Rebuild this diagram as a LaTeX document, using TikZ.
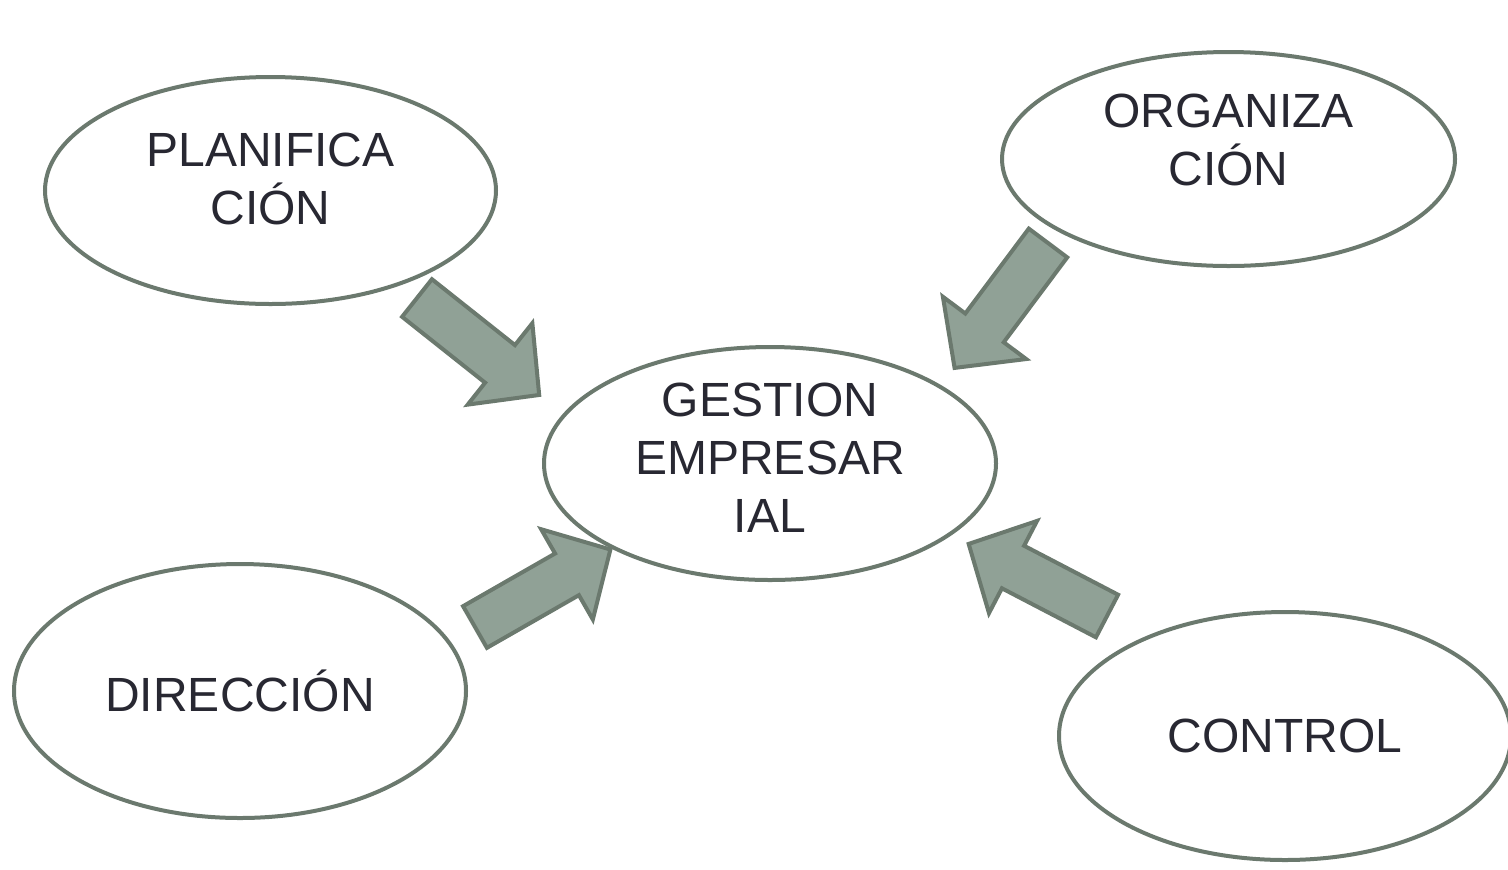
\documentclass[tikz,border=0pt]{standalone}
\usepackage{fontspec}
\setmainfont{Liberation Sans}
\usetikzlibrary{shapes.geometric}

\definecolor{sage}{RGB}{144,161,150}
\definecolor{sagedark}{RGB}{107,121,110}
\definecolor{ink}{RGB}{40,40,50}

\tikzstyle{stage}=[
    ellipse,
    line width=2pt,
    draw=sagedark,
    fill=white,
    text=ink,
    inner sep=0pt,
    align=center,
    font=\fontsize{24}{29}\selectfont
]
\tikzstyle{arrowbody}=[
    line width=2pt,
    draw=sagedark,
    fill=sage
]
\tikzset{
    bigarrow/.pic={
        \draw[arrowbody] (0pt,-12pt) -- (53pt,-12pt) -- (53pt,-26pt) -- (78pt,0pt)
            -- (53pt,26pt) -- (53pt,12pt) -- (0pt,12pt) -- cycle;
    }
}

\begin{document}
\begin{tikzpicture}[x=0.5pt,y=-0.5pt]
	\useasboundingbox (0,0) rectangle (1508,869);
	% ELLIPSES
	\node (plan) [stage, minimum width=225.5pt, minimum height=113.5pt, text depth=11.5pt]
		at (270.5,190.5) {PLANIFICA\\CIÓN};
	\node (org) [stage, minimum width=226.5pt, minimum height=107pt, text depth=19.5pt]
		at (1228.5,159) {ORGANIZA\\CIÓN};
	\node (gest) [stage, minimum width=226pt, minimum height=116.5pt, text depth=5.5pt]
		at (770,463.5) {GESTION\\EMPRESAR\\IAL};
	\node (dir) [stage, minimum width=226pt, minimum height=127pt]
		at (240,691) {DIRECCIÓN};
	\node (ctrl) [stage, minimum width=226pt, minimum height=124pt]
		at (1285,736) {CONTROL};

	% ARROW ENDS
	\coordinate (a_plan) at (417,298);
	\coordinate (b_plan) at (543,398);
	\coordinate (a_org) at (1048,243);
	\coordinate (b_org) at (953,370);
	\coordinate (a_dir) at (475,627);
	\coordinate (b_dir) at (613,548);
	\coordinate (a_ctrl) at (1107,616);
	\coordinate (b_ctrl) at (965,542);

	% ARROWS
	\path (a_plan) -- (b_plan) pic[pos=0, sloped, allow upside down] {bigarrow};
	\path (a_org) -- (b_org) pic[pos=0, sloped, allow upside down] {bigarrow};
	\path (a_dir) -- (b_dir) pic[pos=0, sloped, allow upside down] {bigarrow};
	\path (a_ctrl) -- (b_ctrl) pic[pos=0, sloped, allow upside down] {bigarrow};
\end{tikzpicture}
\end{document}
